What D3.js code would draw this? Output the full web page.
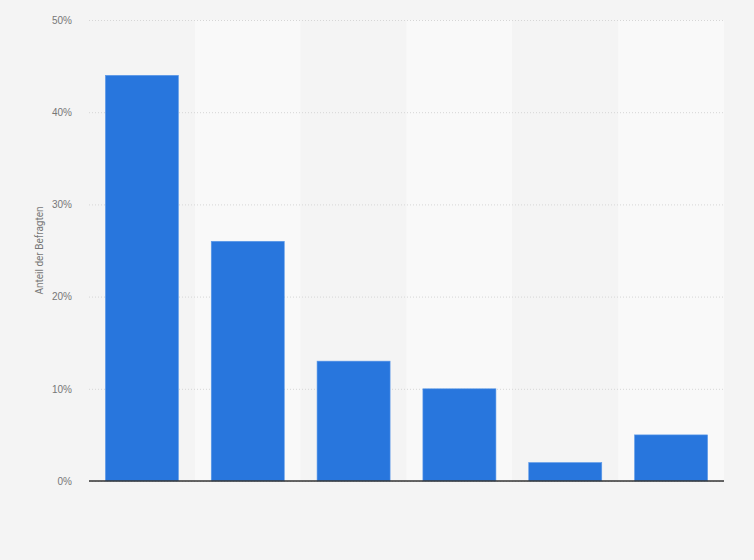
<!DOCTYPE html>
<html>
<head>
<meta charset="utf-8">
<script src="https://cdn.jsdelivr.net/npm/d3@7"></script>
<style>
  body { margin: 0; background: #f4f4f4; }
  svg { display: block; font-family: Roboto, "Open Sans", sans-serif; }
</style>
</head>
<body>
<div id="chart"></div>
<script>
// Daten (Kategorien ohne sichtbare Beschriftung)
const categories = ["K1", "K2", "K3", "K4", "K5", "K6"];
const shares = [44, 26, 13, 10, 2, 5];
const yTicks = [0, 10, 20, 30, 40, 50];
const yLabel = "Anteil der Befragten";

const width = 754, height = 560;
const margin = { top: 20, right: 30, bottom: 79, left: 89 };
const innerWidth = width - margin.left - margin.right;
const innerHeight = height - margin.top - margin.bottom;

const data = categories.map((c, i) => ({ cat: c, value: shares[i] }));

const xScale = d3.scaleBand()
  .domain(categories)
  .range([0, innerWidth])
  .paddingInner(0.31)
  .paddingOuter(0.155);

const bandScale = d3.scaleBand()
  .domain(categories)
  .range([0, innerWidth]);

const yScale = d3.scaleLinear()
  .domain([0, 50])
  .range([innerHeight, 0]);

const svg = d3.select("#chart")
  .append("svg")
  .attr("width", width)
  .attr("height", height);

svg.append("rect")
  .attr("width", width).attr("height", height)
  .attr("fill", "#f4f4f4");

const innerChart = svg.append("g")
  .attr("transform", `translate(${margin.left}, ${margin.top})`);

// abwechselnde Hintergrundstreifen
innerChart.selectAll(".band")
  .data(categories)
  .join("rect")
  .attr("class", "band")
  .attr("x", d => bandScale(d))
  .attr("y", 0)
  .attr("width", bandScale.bandwidth())
  .attr("height", innerHeight)
  .attr("fill", (d, i) => i % 2 ? "#f9f9f9" : "#f4f4f4");

// Gitterlinien
const leftAxis = d3.axisLeft(yScale)
  .tickValues(yTicks)
  .tickSize(-innerWidth)
  .tickPadding(17)
  .tickFormat(d => d + "%");

const yAxisG = innerChart.append("g").call(leftAxis);
yAxisG.select(".domain").remove();
yAxisG.selectAll(".tick line")
  .attr("stroke", "#d6d6d6")
  .attr("stroke-dasharray", "1,2");
yAxisG.selectAll(".tick text")
  .attr("fill", "#777")
  .attr("font-size", 10);

// Balken
innerChart.selectAll(".bar")
  .data(data)
  .join("rect")
  .attr("class", "bar")
  .attr("x", d => xScale(d.cat))
  .attr("y", d => yScale(d.value))
  .attr("width", xScale.bandwidth())
  .attr("height", d => yScale(0) - yScale(d.value))
  .attr("fill", "#2876dd")
  .attr("stroke", "#5d9ae8")
  .attr("stroke-width", 0.6);

// x-Achse: nur die Grundlinie, keine Beschriftung
innerChart.append("line")
  .attr("x1", 0)
  .attr("x2", innerWidth)
  .attr("y1", yScale(0))
  .attr("y2", yScale(0))
  .attr("stroke", "#333")
  .attr("stroke-width", 1.3);

// Achsentitel
svg.append("text")
  .attr("transform", `translate(43, ${margin.top + innerHeight / 2}) rotate(-90)`)
  .attr("text-anchor", "middle")
  .attr("font-size", 10)
  .attr("fill", "#777")
  .text(yLabel);
</script>
</body>
</html>
